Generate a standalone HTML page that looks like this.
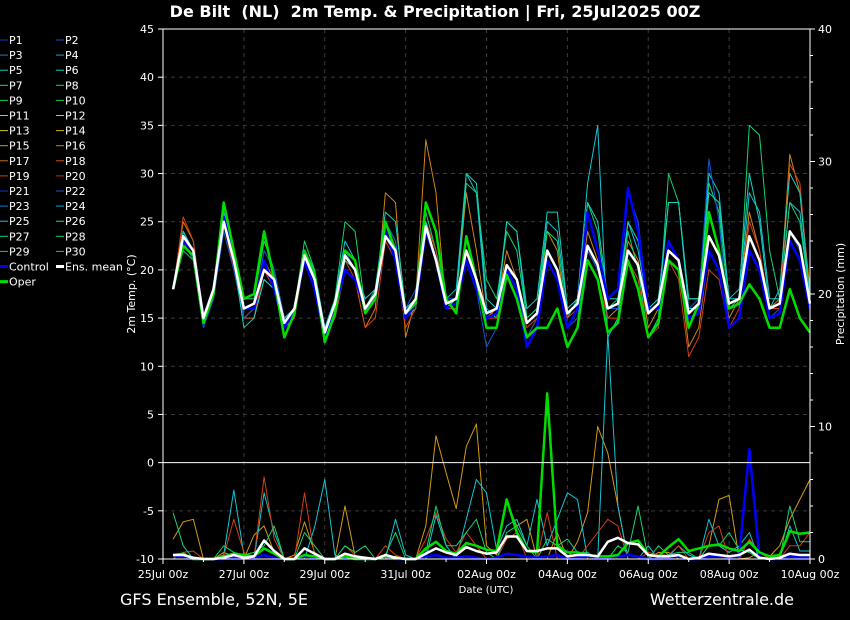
<!DOCTYPE html>
<html><head><meta charset="utf-8"><style>
html,body{margin:0;padding:0;background:#000;}
svg{display:block;font-family:"DejaVu Sans","Liberation Sans",sans-serif;}
</style></head><body>
<svg id="chart" width="850" height="620" viewBox="0 0 850 620">
<rect width="850" height="620" fill="#000"/>
<text x="435" y="17" fill="#fff" font-size="16" font-weight="bold" text-anchor="middle">De Bilt &#160;(NL) &#160;2m Temp. &amp; Precipitation | Fri, 25Jul2025 00Z</text>
<text x="120" y="605" fill="#fff" font-size="16">GFS Ensemble, 52N, 5E</text>
<text x="794" y="605" fill="#fff" font-size="16" text-anchor="end">Wetterzentrale.de</text>
<text transform="translate(135,294) rotate(-90)" fill="#fff" font-size="11" text-anchor="middle">2m Temp. (°C)</text>
<text transform="translate(844,294) rotate(-90)" fill="#fff" font-size="11" text-anchor="middle">Precipitation (mm)</text>
<text x="486" y="593" fill="#fff" font-size="10" text-anchor="middle">Date (UTC)</text>
<g id="grid"></g><g id="members"></g><g id="main"></g><g id="axes"></g><g id="legend"></g>
</svg>
<script>
const tempTicks=[-10,-5,0,5,10,15,20,25,30,35,40,45];
const precipTicks=[0,10,20,30,40];
const dateLabels=["25Jul 00z","27Jul 00z","29Jul 00z","31Jul 00z","02Aug 00z","04Aug 00z","06Aug 00z","08Aug 00z","10Aug 00z"];
const meanTemp=[18,23.5,22,15,18,25,21,16,16.5,20,19,14.5,16,21.5,19,13.5,16.5,21.5,20,16,17.5,23.5,22,15.5,17,24.5,21,16.5,17,22,19,15.5,16,20.5,19,14.5,15.5,22,20,15.5,16.5,22.5,20.5,16,16.5,22,20.5,15.5,16.5,22,21,15.5,16.5,23.5,21.5,16.5,17,23.5,21,16,16.5,24,22.5,16.5];
const operTemp=[18,22.5,21.5,14.5,17.5,27,22,17,17.5,24,19,13,15.5,22,19.5,12.5,15.5,22,21,15.5,17,25,22,15.5,16.5,27,24,17,15.5,23.5,19,14,14,19.5,17,13,14,14,16,12,14,21,19,13.5,14.5,21,18,13,14.5,21,20,14,16.5,26,22,16,16.5,18.5,17,14,14,18,15,13.5];
const controlTemp=[18,23,22,15,18,25.5,21.5,16,16,21,18,14,16,21,18,13,16,20,19,16,17,24,21,15,16.5,24,21,16,16.5,21,18,15,15.5,20,18,12,14,21,19,14,16,26,22,17,18,28.5,24,16,16,23,21,15,15.5,22,20,14,15,22,20,15,15.5,23,21,16];
const memberA=[18,25,23,15,18,26,22,15,16,21,19,14,15,22,19,13,15,20,19,14,16,28,27,13,17,33.5,28,16,17,28,22,15,16,22,19,13,15,24,22,14,16,24,21,15,16,23,21,14,16,23,21,12,14,22,20,15,17,26,22,16,17,32,28,18];
const memberB=[18,24,22,15,17,26,21,15,15,19,18,15,16,22,20,14,17,23,21,16,17,24,22,16,17,25,22,17,18,30,28,16,15,25,24,15,16,25,24,16,17,29,35,13,15,25,22,16,16,27,27,16,16,30,28,17,17,28,26,17,17,27,26,17];
const memberC=[18,22,21,15,18,27,22,17,17,23,20,15,16,23,20,13,17,25,24,16,18,25,23,15,16,26,22,16,17,29,28,19,17,24,22,15,16,24,23,15,17,27,24,16,17,24,20,13,15,30,27,17,17,29,26,16,17,35,34,22,17,27,25,17];
const memberD=[18,25.5,23,15,17,25,20,15,15,20,18,14,15,21,18,13,15,21,19,14,15,23,21,14,16,25,22,16,16,22,19,15,15,20,18,14,15,22,20,15,16,21,19,15,15,21,19,13,14,21,19,11,13,20,19,14,16,25,22,16,16,31,29,17];
const memberE=[18,23,21,14,17,24,20,15,16,22,20,15,16,21,19,14,16,22,20,17,18,25,23,16,18,24,21,17,17,21,18,12,14,20,19,13,15,21,19,14,15,22,20,16,16,28,25,16,17,23,21,16,17,31.5,25,14,15,22,20,15,16,24,22,17];
const memberF=[18,24,22,15,18,25,21,14,15,19,18,15,16,21,19,14,16,21,20,17,18,26,25,16,17,25,21,16,17,30,29,17,16,25,24,16,17,26,26,16,17,27,25,17,17,25,23,16,17,27,27,17,17,28,27,17,18,30,25,16,18,30,28,17];
const meanPrecip=[0.3,0.3,0.1,0,0,0.1,0.3,0.1,0.2,1.4,0.6,0,0,0.8,0.4,0,0,0.4,0.2,0.1,0,0.3,0.1,0,0,0.4,0.8,0.5,0.3,0.9,0.6,0.4,0.5,1.7,1.7,0.6,0.6,0.8,0.8,0.2,0.3,0.3,0.2,1.3,1.6,1.2,1.1,0.3,0.2,0.2,0.3,0,0.1,0.4,0.3,0.2,0.3,0.7,0.1,0,0.1,0.4,0.3,0.3];
const operPrecip=[0.3,0.4,0,0,0,0.2,0.4,0.3,0.2,0.8,0.4,0,0,0.3,0.2,0,0,0.2,0,0,0,0.2,0.1,0,0,0.8,1.3,0.6,0.4,1.2,1,0.7,0.6,4.5,2,0.6,0.5,12.5,1,0.5,0.5,0.3,0.2,0.2,0.3,1.2,1.4,0.3,0.2,0.9,1.5,0.6,0.8,1.0,1.1,0.8,0.6,1.3,0.5,0.2,0.3,2.1,1.9,2.0];
const controlPrecip=[0.2,0.2,0,0,0,0,0.1,0,0.1,0.3,0.1,0,0,0.2,0.1,0,0,0.1,0,0,0,0.2,0,0,0,0.2,0.3,0.1,0.1,0.2,0.1,0,0.1,0.4,0.3,0.2,0.1,0.2,0.3,0,0.1,0.2,0.1,0.1,0.2,0.3,0.2,0,0,0.1,0.2,0,0,0.2,0.2,0.1,0.2,8.3,0.1,0,0,0.2,0.1,0.1];
const precipA=[1.5,2.8,3.0,0,0,0.5,0.2,0,1.8,2.5,0.5,0,0.3,2.8,0.5,0,0,4.0,0.2,0,0,0,0.2,0,0,2.5,9.3,6.5,3.8,8.5,10.2,1.0,0.3,4.3,2.5,3.0,0,0,2.0,0,1.3,3.5,10,8,4,0,0,0,0.5,0.5,0,0,0,1,4.5,4.8,0,0.1,0.5,0.2,1,3,4.5,6];
const precipB=[0,0.5,0,0,0,0.3,5.2,0.3,0,5,2,0,0,0,2.4,6,0.3,0,0,0,0,0,3,0.3,0,0,3.3,1,0,3,6,5,0.7,2.5,3,1,4.5,1,3,5,4.5,0,0,17,4,0,0,1,0,0.2,1,0.3,0,3,1,0.5,1,2,0,0,0,2.5,0.6,0.6];
const precipC=[0,0.5,0.6,0,0,0.2,3,0.5,0.1,6.2,1.5,0,0,5,0.2,0,0,1,0.3,0,0,1,0.3,0,0,1.5,3.5,1.5,0.5,2,1,0,0,1.5,2,0,0,3.5,0,0,0,1,2,3,2.5,0,0,0.5,0.3,0.3,1,0,0,2,2.5,0,0,1.5,0.5,0,0,1,1,2];
const precipD=[3.5,1,0,0,0,1,0.5,0.3,0.5,1,2.5,0,0,2,1,0,0,1,0.5,1,0,0.3,2,0,0,0.5,4,1,1,2,3,0.5,0,2,2.5,1,0,1.5,1,1.5,0.5,0.5,0,0,1,0.5,4,0,1,0.3,0.5,0.5,0,1,1,2,0.7,0.5,0,0,0,4,1.3,1.3];

const NS="http://www.w3.org/2000/svg";
const X0=163,X1=810,Y0=29,Y1=559;
function xs(i){return X0+(i+1)*(X1-X0)/64;}
function yT(v){return Y1-(v+10)*(Y1-Y0)/55;}
function yP(v){return Y1-v*(Y1-Y0)/40;}
function mk(tag,attrs,parent){const e=document.createElementNS(NS,tag);for(const k in attrs)e.setAttribute(k,attrs[k]);parent.appendChild(e);return e;}
function hue(i){const k=(i-1)%20;const h=k<10?230-k*11.5:70-(k-10)*7;return "hsl("+h+",85%,45%)";}
function line(arr,yf,color,w,parent,name){
  const pts=arr.map((v,i)=>xs(i).toFixed(1)+","+yf(v).toFixed(1)).join(" ");
  const p=mk("polyline",{points:pts,fill:"none",stroke:color,"stroke-width":w,"stroke-linejoin":"round"},parent);
  
  
}
const grid=document.getElementById("grid"),axes=document.getElementById("axes"),mem=document.getElementById("members"),main=document.getElementById("main"),leg=document.getElementById("legend");
tempTicks.forEach(t=>{const y=yT(t);
  if(t!==0&&t!==45&&t!==-10){const g=mk("line",{x1:X0,x2:X1,y1:y,y2:y,stroke:"#3a3a3a","stroke-dasharray":"4,4"},grid);}
  const tx=mk("text",{x:X0-9,y:y+4,fill:"#fff","font-size":11,"text-anchor":"end"},axes);tx.textContent=t;
  
  mk("line",{x1:X0-5,x2:X0,y1:y,y2:y,stroke:"#fff"},axes);
});
precipTicks.forEach(t=>{const y=yP(t);
  const tx=mk("text",{x:X1+8,y:y+4,fill:"#fff","font-size":11},axes);tx.textContent=t;
  
  mk("line",{x1:X1,x2:X1+5,y1:y,y2:y,stroke:"#fff"},axes);
});
for(let v=0;v<=40;v+=2){const y=yP(v);mk("line",{x1:X1,x2:X1+3,y1:y,y2:y,stroke:"#fff"},axes);}
dateLabels.forEach((d,i)=>{const x=X0+i*(X1-X0)/8;
  if(i>0&&i<8){const g=mk("line",{x1:x,x2:x,y1:Y0,y2:Y1,stroke:"#3a3a3a","stroke-dasharray":"4,4"},grid);}
  const tx=mk("text",{x:x,y:578,fill:"#fff","font-size":11,"text-anchor":"middle"},axes);tx.textContent=d;
  
  mk("line",{x1:x,x2:x,y1:Y1,y2:Y1+5,stroke:"#fff"},axes);
});
for(let i=1;i<16;i+=2){const x=X0+i*(X1-X0)/16;mk("line",{x1:x,x2:x,y1:Y1,y2:Y1+3,stroke:"#fff"},axes);}
const fr=mk("rect",{x:X0,y:Y0,width:X1-X0,height:Y1-Y0,fill:"none",stroke:"#fff","stroke-width":1},axes);

const zl=mk("line",{x1:X0,x2:X1,y1:yT(0),y2:yT(0),stroke:"#fff"},axes);


[[memberA,16],[memberB,5],[memberC,8],[memberD,19],[memberE,22],[memberF,26]].forEach(([a,k])=>line(a,yT,hue(k),1,mem,"member-temp-line"));
[[precipA,15],[precipB,5],[precipC,19],[precipD,8]].forEach(([a,k])=>line(a,yP,hue(k),1,mem,"member-precip-line"));
line(controlTemp,yT,"#0000ff",2.5,main,"control-temp-line");
line(controlPrecip,yP,"#0000ff",2.5,main,"control-precip-line");
line(operTemp,yT,"#00dd00",2.5,main,"oper-temp-line");
line(operPrecip,yP,"#00dd00",2.5,main,"oper-precip-line");
line(meanTemp,yT,"#ffffff",2.5,main,"mean-temp-line");
line(meanPrecip,yP,"#ffffff",2.5,main,"mean-precip-line");

const entries=[];
for(let i=1;i<=30;i++)entries.push(["P"+i,hue(i),1]);
entries.push(["Control","#0000ff",3],["Ens. mean","#ffffff",3],["Oper","#00dd00",3]);
entries.forEach((e,i)=>{const col=i%2,row=Math.floor(i/2);const x=col?56:0,y=40+row*15.1;
  const g=mk("g",{},leg);
  mk("line",{x1:x,x2:x+8,y1:y,y2:y,stroke:e[1],"stroke-width":e[2]},g);
  const t=mk("text",{x:x+9,y:y+4,fill:"#fff","font-size":11},g);t.textContent=e[0];
});
</script>
</body></html>
